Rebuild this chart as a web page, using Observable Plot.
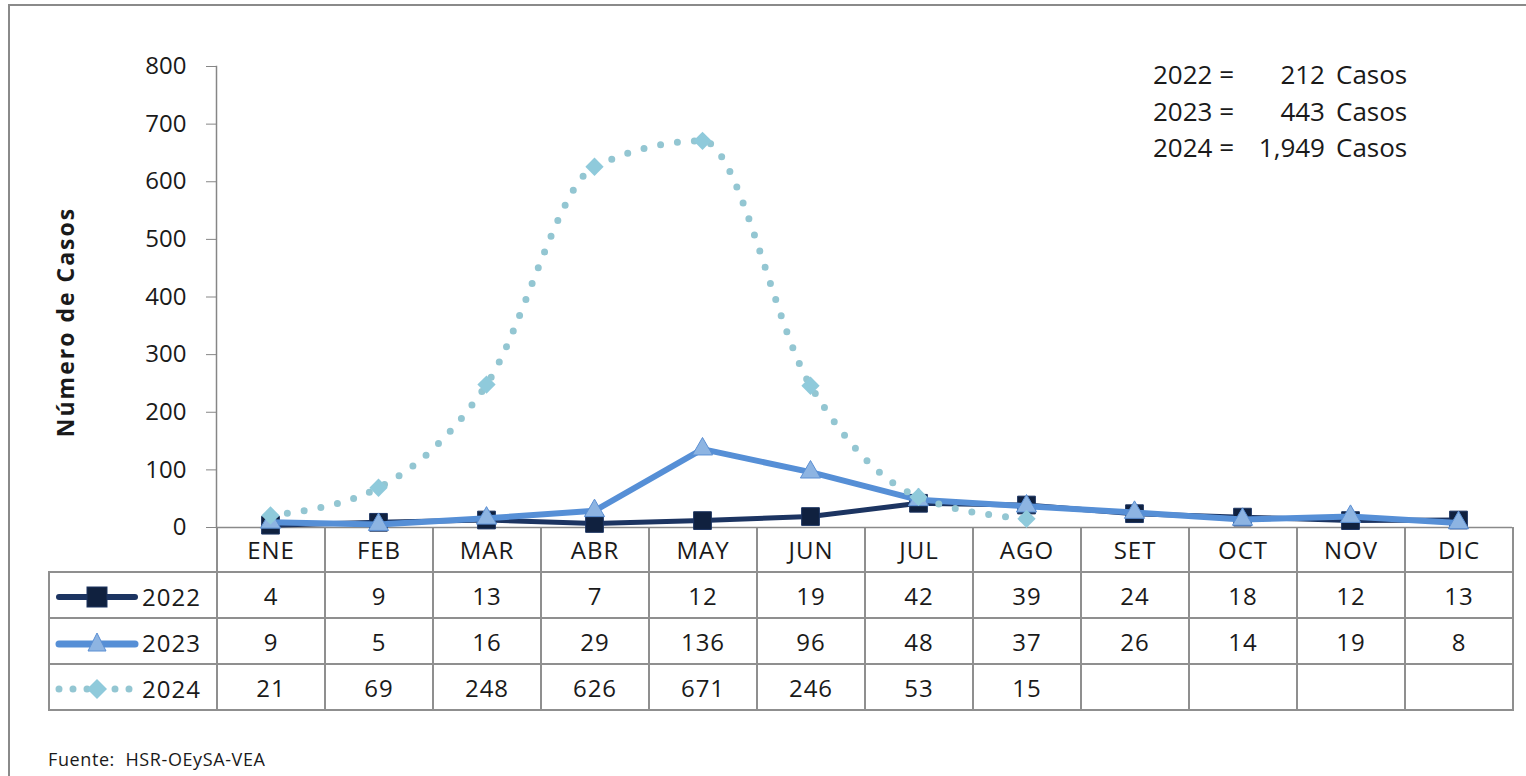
<!DOCTYPE html>
<html>
<head>
<meta charset="utf-8">
<script src="https://cdn.jsdelivr.net/npm/d3@7"></script>
<script src="https://cdn.jsdelivr.net/npm/@observablehq/plot@0.6"></script>
<style>
  html, body { margin: 0; padding: 0; background: #fff; overflow: hidden; }
  #wrap { position: relative; width: 1526px; height: 776px; overflow: hidden; font-family: "Open Sans", sans-serif; color: #1a1a1a; }
  #frame { position: absolute; left: 8px; top: 4px; width: 1540px; height: 800px; border: 2px solid #8a8a8a; box-sizing: border-box; }
  #chart { position: absolute; left: 0; top: 0; z-index: 2; pointer-events: none; }
  #ytitle { position: absolute; left: 65px; top: 322px; transform: translate(-50%, -50%) rotate(-90deg); font-weight: 700; font-size: 23px; letter-spacing: 2px; white-space: nowrap; }
  #totals { position: absolute; left: 1153px; top: 56px; font-size: 26px; line-height: 36.5px; }
  #totals .y { display: inline-block; width: 88px; }
  #totals .n { display: inline-block; width: 84px; text-align: right; }
  #totals .c { display: inline-block; margin-left: 11px; }
  table { position: absolute; left: 48px; top: 527px; border-collapse: collapse; table-layout: fixed; font-size: 24px; z-index: 1; letter-spacing: 1px; }
  td { border: 2px solid #8f8f8f; height: 44px; padding: 0; text-align: center; vertical-align: middle; }
  tr.head td { border-top: none; }
  tr.head td.blank { border-left: none; border-top: none; }
  td.key { text-align: left; }
  td.key svg { vertical-align: middle; margin-left: 4px; }
  td.key span { vertical-align: middle; margin-left: 2px; }
  #fuente { position: absolute; left: 48px; top: 747px; font-size: 18px; letter-spacing: 0.6px; white-space: pre; }
</style>
</head>
<body>
<div id="wrap">
  <div id="frame"></div>
  <div id="ytitle">Número de Casos</div>
  <div id="totals"></div>
  <div id="fuente">Fuente:  HSR-OEySA-VEA</div>
</div>
<script>
const months = ["ENE","FEB","MAR","ABR","MAY","JUN","JUL","AGO","SET","OCT","NOV","DIC"];
const years = ["2022","2023","2024"];
const v2022 = [4, 9, 13, 7, 12, 19, 42, 39, 24, 18, 12, 13];
const v2023 = [9, 5, 16, 29, 136, 96, 48, 37, 26, 14, 19, 8];
const v2024 = [21, 69, 248, 626, 671, 246, 53, 15];
const totals = ["212", "443", "1,949"];
const yTicks = [0, 100, 200, 300, 400, 500, 600, 700, 800];

const colors = {
  line2022: "#1c3461", fill2022: "#10213f",
  line2023: "#568fd6", fill2023: "#8db4e2", edge2023: "#5b8fd3",
  line2024: "#93c6d2", fill2024: "#8fcadb"
};

const d22 = v2022.map((v, i) => ({month: months[i], value: v}));
const d23 = v2023.map((v, i) => ({month: months[i], value: v}));
const d24 = v2024.map((v, i) => ({month: months[i], value: v}));

const chart = Plot.plot({
  width: 1526,
  height: 545,
  marginLeft: 216,
  marginRight: 14,
  marginTop: 66,
  marginBottom: 18,
  style: {background: "transparent", fontFamily: "Open Sans, sans-serif", overflow: "visible"},
  x: {type: "point", domain: months, padding: 0.5, axis: null},
  y: {domain: [0, 800], axis: null},
  marks: [
    Plot.axisY({ticks: yTicks, tickSize: 10, tickPadding: 20, fontSize: 24, label: null, stroke: "#868686", fill: "#1a1a1a", tickFormat: d3.format("d"), style: {letterSpacing: "1.5px"}}),
    Plot.frame({anchor: "left", stroke: "#868686", strokeWidth: 1.5}),
    Plot.ruleY([0], {stroke: "#8a8a8a", strokeWidth: 1.5}),
    Plot.line(d22, {x: "month", y: "value", stroke: colors.line2022, strokeWidth: 5}),
    Plot.dot(d22, {x: "month", y: "value", symbol: "square", r: 10, fill: colors.fill2022, stroke: colors.line2022, strokeWidth: 1}),
    Plot.line(d23, {x: "month", y: "value", stroke: colors.line2023, strokeWidth: 6}),
    Plot.dot(d23, {x: "month", y: "value", symbol: "triangle", r: 7.5, fill: colors.fill2023, stroke: colors.edge2023, strokeWidth: 1}),
    Plot.line(d24, {x: "month", y: "value", curve: "monotone-x", stroke: colors.line2024, strokeWidth: 7, strokeDasharray: "0 17", strokeLinecap: "round"}),
    Plot.dot(d24, {x: "month", y: "value", symbol: "square", rotate: 45, r: 7.3, fill: colors.fill2024})
  ]
});
chart.id = "chart";
document.getElementById("wrap").appendChild(chart);

// totals box
const tot = document.getElementById("totals");
years.forEach((y, i) => {
  const line = document.createElement("div");
  line.innerHTML = `<span class="y">${y} =</span><span class="n">${totals[i]}</span><span class="c">Casos</span>`;
  tot.appendChild(line);
});

// data table
function swatch(i) {
  const ns = "http://www.w3.org/2000/svg";
  const s = document.createElementNS(ns, "svg");
  s.setAttribute("width", 86); s.setAttribute("height", 26);
  if (i === 0) {
    s.innerHTML = `<line x1="5" x2="81" y1="13" y2="13" stroke="${colors.line2022}" stroke-width="6" stroke-linecap="round"/>
      <rect x="33" y="3" width="20" height="20" fill="${colors.fill2022}" stroke="${colors.line2022}"/>`;
  } else if (i === 1) {
    s.innerHTML = `<line x1="5" x2="81" y1="14" y2="14" stroke="${colors.line2023}" stroke-width="7" stroke-linecap="round"/>
      <path d="M43,3 L52,21 L34,21 Z" fill="${colors.fill2023}" stroke="${colors.edge2023}"/>`;
  } else {
    s.innerHTML = `<line x1="5" x2="81" y1="13" y2="13" stroke="${colors.line2024}" stroke-width="7" stroke-dasharray="0 14" stroke-linecap="round"/>
      <path d="M43,3 L53,13 L43,23 L33,13 Z" fill="${colors.fill2024}"/>`;
  }
  return s;
}
const table = document.createElement("table");
const cg = document.createElement("colgroup");
const c0 = document.createElement("col"); c0.style.width = "168px"; cg.appendChild(c0);
months.forEach(() => { const c = document.createElement("col"); c.style.width = "108px"; cg.appendChild(c); });
table.appendChild(cg);
const head = document.createElement("tr"); head.className = "head";
const blank = document.createElement("td"); blank.className = "blank"; head.appendChild(blank);
months.forEach(m => { const td = document.createElement("td"); td.textContent = m; head.appendChild(td); });
table.appendChild(head);
[v2022, v2023, v2024].forEach((vals, i) => {
  const tr = document.createElement("tr");
  const k = document.createElement("td"); k.className = "key";
  k.appendChild(swatch(i));
  const sp = document.createElement("span"); sp.textContent = years[i]; k.appendChild(sp);
  tr.appendChild(k);
  months.forEach((m, j) => { const td = document.createElement("td"); td.textContent = vals[j] != null ? vals[j] : ""; tr.appendChild(td); });
  table.appendChild(tr);
});
document.getElementById("wrap").appendChild(table);
</script>
</body>
</html>
